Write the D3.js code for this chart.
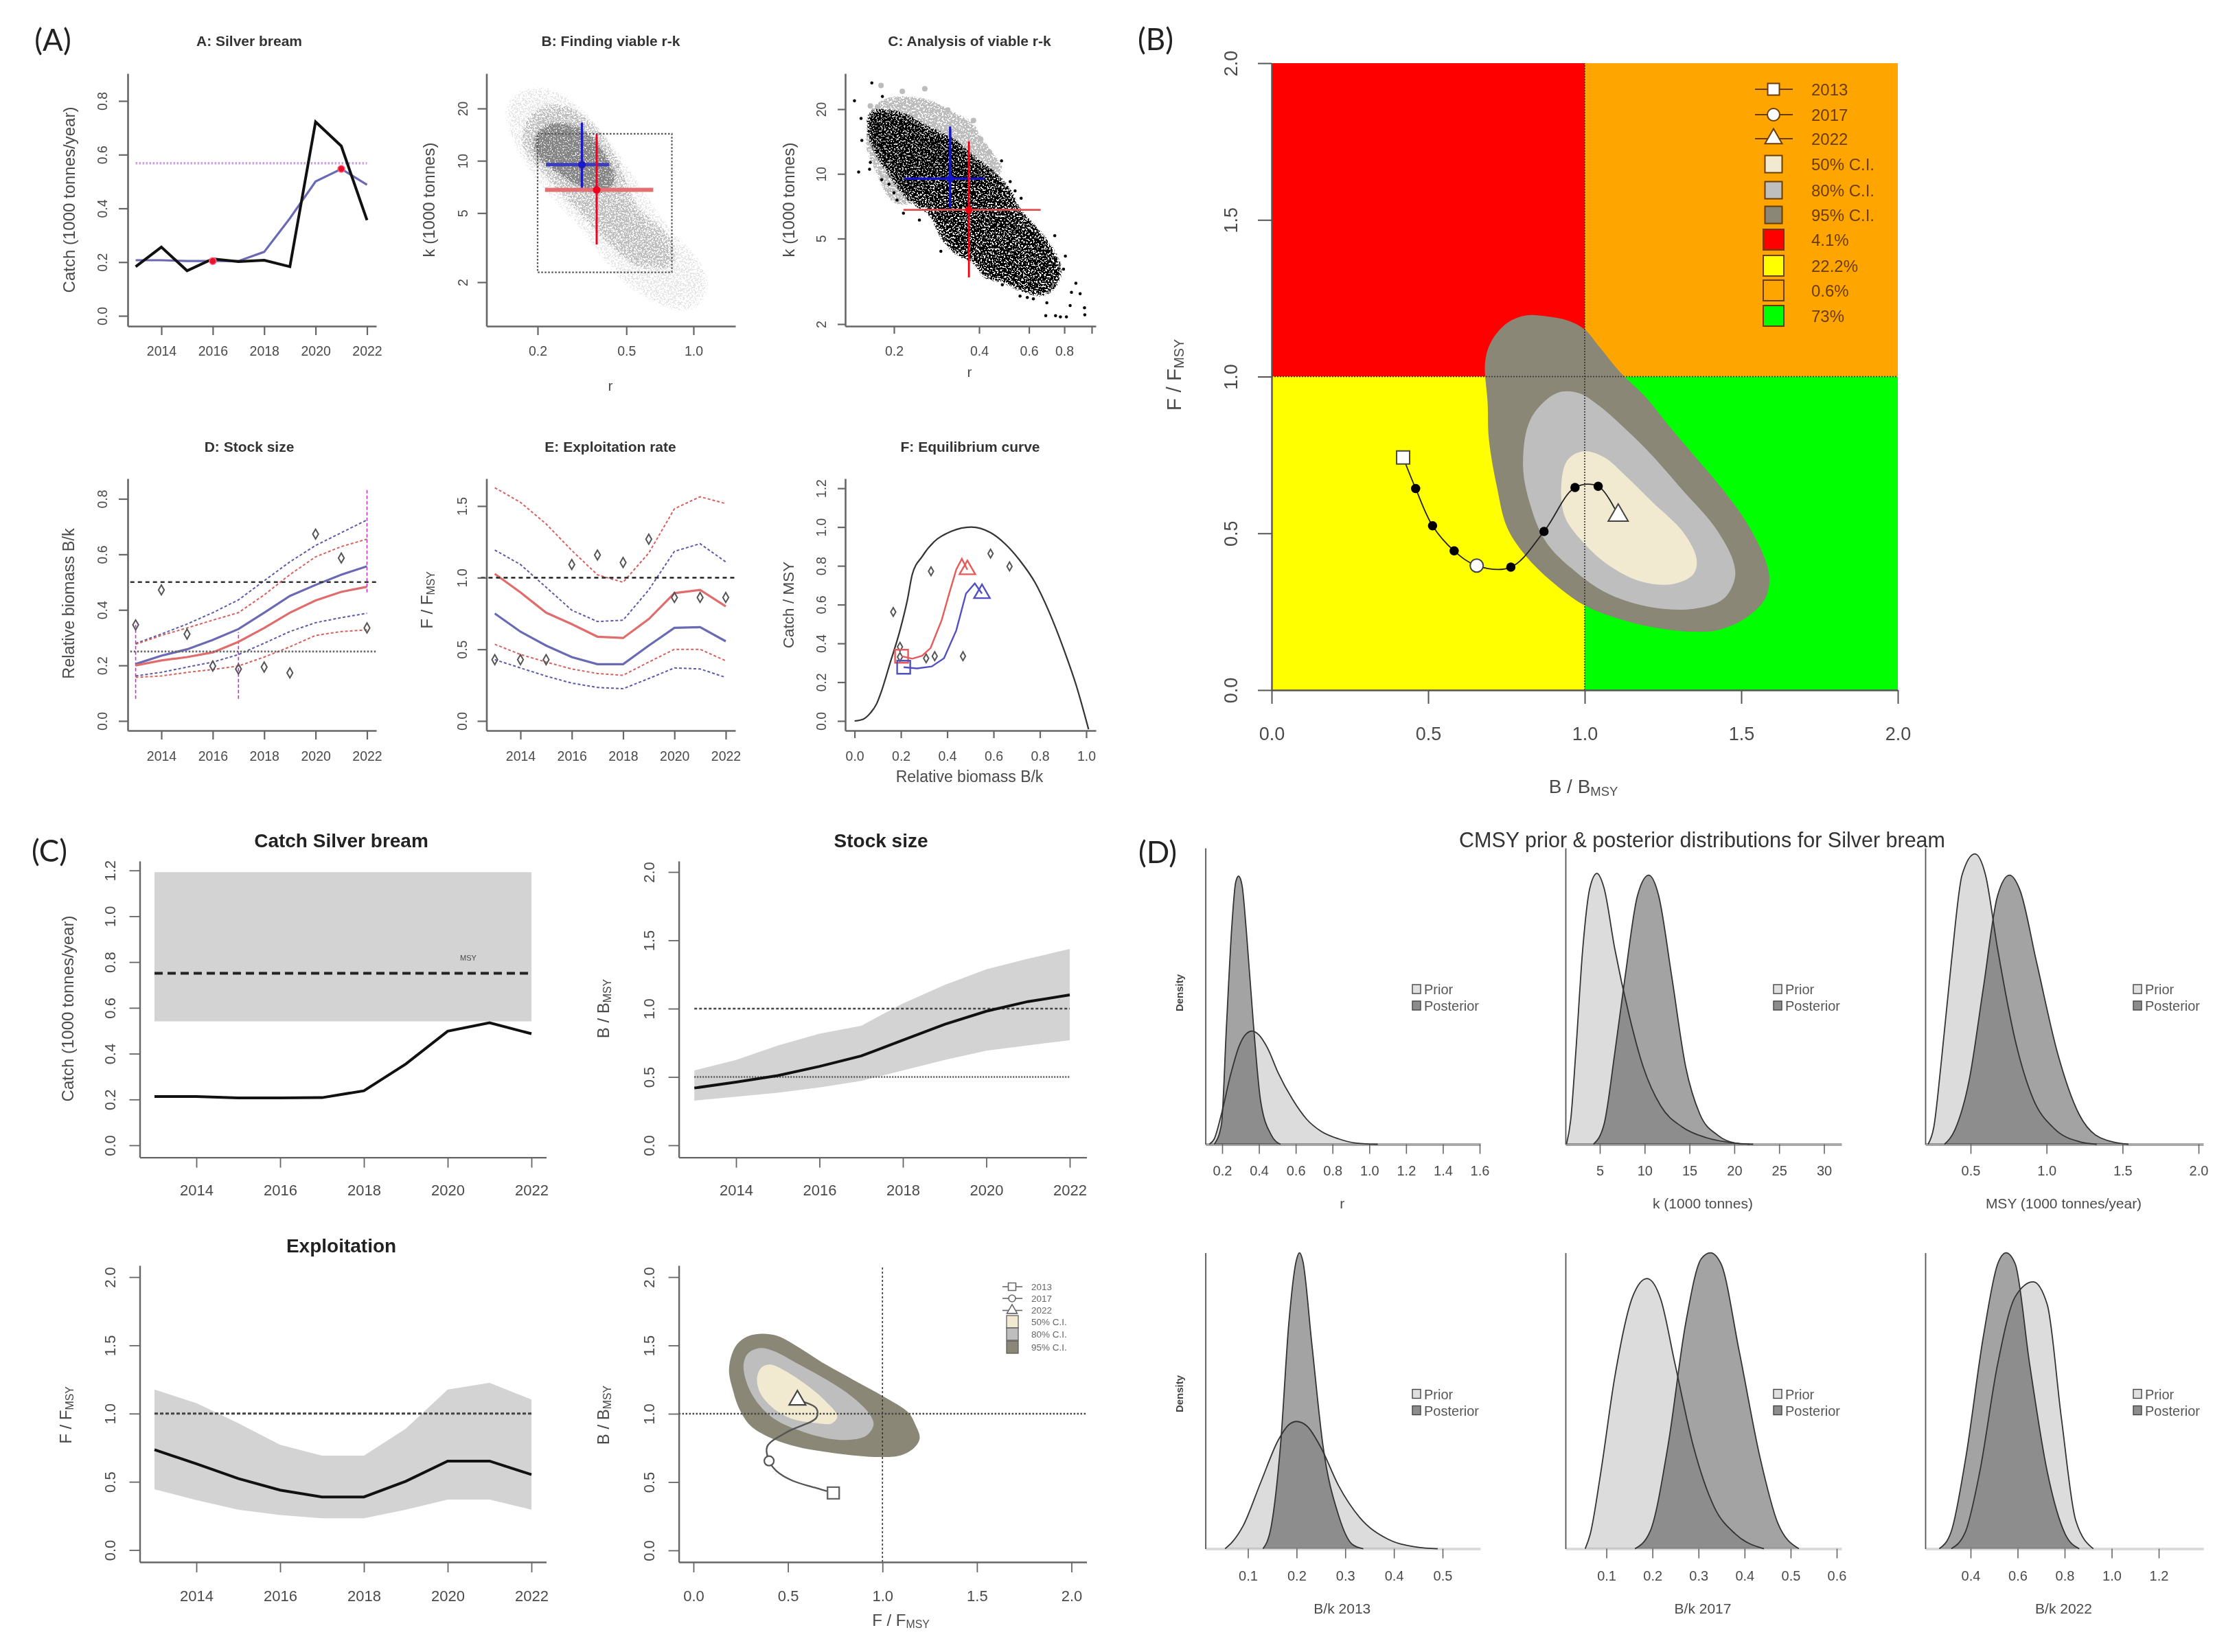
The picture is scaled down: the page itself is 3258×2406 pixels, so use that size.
<!DOCTYPE html>
<html>
<head>
<meta charset="utf-8">
<script src="https://cdnjs.cloudflare.com/ajax/libs/d3/7.8.5/d3.min.js"></script>
<style>
  html, body { margin: 0; padding: 0; background: #fff; }
  text { font-family: "Liberation Sans", Arial, sans-serif; }
</style>
</head>
<body>
<script>
// ---------- data ----------
var years = [2013, 2014, 2015, 2016, 2017, 2018, 2019, 2020, 2021, 2022];
var yearTicks = [2014, 2016, 2018, 2020, 2022];

// (A) A: catch
var catchObs = [0.183, 0.256, 0.168, 0.212, 0.202, 0.207, 0.183, 0.722, 0.632, 0.356];
var catchSmooth = [0.207, 0.207, 0.204, 0.204, 0.204, 0.238, 0.363, 0.5, 0.547, 0.488];
var catchMarkYears = [2016, 2021];
var catchMarkValues = [0.204, 0.547];
var catchRefLine = 0.568;

// (A) B and C: r-k
var blueR = [0.218, 0.316, 0.418];
var blueK = [6.97, 9.5, 16.6];
var redR = [0.216, 0.368, 0.66];
var redK = [3.3, 6.8, 14.2];
var priorBoxR = [0.2, 0.8];
var priorBoxK = [2.28, 14.3];

var faintR = [0.137, 0.176, 0.262, 0.41, 0.745, 1.226, 1.0, 0.5, 0.304, 0.167];
var faintK = [20.8, 27.6, 25.7, 14.7, 4.8, 2.08, 1.28, 1.81, 3.9, 9.7];
var haloR = [0.176, 0.194, 0.255, 0.353, 0.453, 0.553, 0.783, 0.82, 0.553, 0.39, 0.289, 0.214, 0.171];
var haloK = [16.3, 19.5, 21.2, 16.3, 10.4, 5.5, 3.64, 2.48, 2.48, 3.64, 5.5, 8.4, 11.9];
var coreR = [0.196, 0.209, 0.249, 0.304, 0.362, 0.41, 0.442, 0.39, 0.304, 0.237, 0.2];
var coreK = [12.8, 15.2, 16.3, 15.2, 12.8, 10.0, 7.84, 6.7, 7.3, 9.0, 10.7];

var greyBandR = [0.162, 0.168, 0.19, 0.261, 0.319, 0.374, 0.405, 0.439, 0.476, 0.439, 0.261, 0.223, 0.199, 0.175, 0.162];
var greyBandK = [14.9, 19.7, 22.1, 21.8, 19.2, 17.1, 14.5, 12.5, 10.6, 9.47, 8.95, 7.34, 7.56, 10.3, 13.3];
var greyDotR = [0.18, 0.214, 0.257, 0.165, 0.382, 0.31, 0.405, 0.435];
var greyDotK = [25.8, 24.2, 24.9, 20.7, 17.7, 19.8, 14.5, 12.6];
var blackR = [0.168, 0.182, 0.214, 0.261, 0.319, 0.367, 0.422, 0.466, 0.515, 0.546, 0.616, 0.694, 0.76, 0.752, 0.681, 0.58, 0.485, 0.422, 0.39, 0.339, 0.3, 0.272, 0.232, 0.214, 0.19, 0.172, 0.165];
var blackK = [19.2, 19.4, 18.6, 16.2, 14.3, 12.2, 10.6, 9.47, 8.0, 6.75, 5.7, 4.68, 3.73, 3.24, 2.81, 2.9, 3.24, 3.38, 3.95, 4.3, 5.09, 6.56, 7.55, 8.46, 10.6, 13.3, 15.7];
var blackDotR = [0.145, 0.167, 0.182, 0.153, 0.154, 0.15, 0.164, 0.165, 0.181, 0.192, 0.2, 0.205, 0.216, 0.246, 0.293, 0.48, 0.515, 0.536, 0.563, 0.74, 0.807, 0.795, 0.879, 0.848, 0.91, 0.839, 0.943, 0.945, 0.814, 0.775, 0.745, 0.688, 0.694, 0.622, 0.592, 0.558, 0.483];
var blackDotK = [21.9, 26.5, 22.9, 18.1, 14.3, 10.2, 10.5, 11.3, 9.4, 8.95, 8.16, 7.55, 6.56, 6.1, 4.36, 11.5, 9.2, 8.34, 7.7, 5.16, 4.14, 3.6, 3.1, 2.81, 2.77, 2.44, 2.38, 2.21, 2.16, 2.16, 2.19, 2.19, 2.51, 2.62, 2.66, 2.7, 3.05];

// (A) D: stock size
var bkBlue = [0.205, 0.235, 0.258, 0.292, 0.331, 0.39, 0.45, 0.49, 0.527, 0.557];
var bkBlueUp = [0.279, 0.313, 0.349, 0.39, 0.436, 0.505, 0.573, 0.632, 0.678, 0.724];
var bkBlueLo = [0.162, 0.175, 0.194, 0.212, 0.239, 0.28, 0.322, 0.354, 0.372, 0.388];
var bkRed = [0.2, 0.218, 0.23, 0.247, 0.285, 0.335, 0.39, 0.434, 0.465, 0.483];
var bkRedUp = [0.276, 0.308, 0.335, 0.363, 0.39, 0.454, 0.527, 0.591, 0.628, 0.655];
var bkRedLo = [0.157, 0.162, 0.175, 0.185, 0.198, 0.23, 0.267, 0.308, 0.322, 0.328];
var bkObs = [0.346, 0.472, 0.313, 0.198, 0.187, 0.194, 0.173, 0.673, 0.587, 0.335];
var bkPriorYears = [2013, 2017, 2022];
var bkPriorLo = [0.08, 0.08, 0.463];
var bkPriorHi = [0.346, 0.32, 0.838];

// (A) E: exploitation rate
var frBlue = [0.75, 0.623, 0.526, 0.446, 0.396, 0.396, 0.526, 0.65, 0.655, 0.556];
var frBlueUp = [1.193, 1.092, 0.933, 0.773, 0.694, 0.703, 0.915, 1.184, 1.237, 1.11];
var frBlueLo = [0.428, 0.37, 0.313, 0.264, 0.234, 0.225, 0.296, 0.37, 0.363, 0.304];
var frRed = [1.027, 0.897, 0.756, 0.676, 0.588, 0.579, 0.711, 0.892, 0.915, 0.8];
var frRedUp = [1.628, 1.526, 1.375, 1.19, 1.02, 0.968, 1.172, 1.481, 1.565, 1.517];
var frRedLo = [0.535, 0.464, 0.411, 0.363, 0.331, 0.319, 0.411, 0.5, 0.5, 0.42];
var frObs = [0.428, 0.428, 0.428, 1.092, 1.158, 1.106, 1.269, 0.862, 0.862, 0.862];

// (A) F: equilibrium curve
var eqB = [0, 0.037, 0.069, 0.095, 0.116, 0.153, 0.196, 0.228, 0.249, 0.291, 0.344, 0.418, 0.503, 0.587, 0.651, 0.714, 0.778, 0.841, 0.905, 0.958, 1.01];
var eqC = [0, 0.009, 0.042, 0.088, 0.153, 0.297, 0.467, 0.624, 0.755, 0.847, 0.925, 0.978, 1.0, 0.971, 0.912, 0.827, 0.716, 0.559, 0.363, 0.179, -0.043];
var eqRedB = [0.203, 0.249, 0.291, 0.328, 0.376, 0.407, 0.439, 0.463, 0.487];
var eqRedC = [0.334, 0.321, 0.336, 0.376, 0.52, 0.651, 0.781, 0.836, 0.78];
var eqBlueB = [0.212, 0.27, 0.333, 0.386, 0.439, 0.481, 0.519, 0.55];
var eqBlueC = [0.277, 0.271, 0.281, 0.323, 0.467, 0.657, 0.709, 0.657];
var eqObsB = [0.167, 0.196, 0.196, 0.309, 0.346, 0.468, 0.33, 0.587, 0.669];
var eqObsC = [0.562, 0.382, 0.33, 0.323, 0.334, 0.334, 0.772, 0.863, 0.797];

// (B) Kobe plot
var kobeB = [0.42, 0.46, 0.514, 0.583, 0.655, 0.764, 0.87, 0.969, 1.043, 1.107];
var kobeF = [0.742, 0.643, 0.524, 0.444, 0.397, 0.392, 0.506, 0.646, 0.65, 0.557];
var ci95B = [0.811, 0.878, 0.945, 0.999, 1.046, 1.113, 1.197, 1.264, 1.348, 1.432, 1.516, 1.575, 1.59, 1.575, 1.516, 1.432, 1.348, 1.214, 1.097, 0.996, 0.895, 0.811, 0.752, 0.719, 0.694, 0.69, 0.682, 0.702, 0.752];
var ci95F = [1.195, 1.192, 1.179, 1.151, 1.096, 1.014, 0.932, 0.849, 0.75, 0.651, 0.536, 0.42, 0.354, 0.289, 0.231, 0.193, 0.186, 0.201, 0.231, 0.272, 0.346, 0.429, 0.519, 0.651, 0.8, 0.915, 1.047, 1.113, 1.171];
var ci80B = [0.912, 0.979, 1.046, 1.13, 1.214, 1.315, 1.416, 1.474, 1.479, 1.441, 1.348, 1.214, 1.08, 0.979, 0.878, 0.828, 0.803, 0.828];
var ci80F = [0.948, 0.948, 0.907, 0.833, 0.75, 0.635, 0.519, 0.412, 0.354, 0.289, 0.259, 0.264, 0.305, 0.371, 0.47, 0.585, 0.717, 0.866];
var ci50B = [0.996, 1.063, 1.13, 1.214, 1.315, 1.357, 1.348, 1.281, 1.181, 1.08, 0.996, 0.937, 0.925, 0.945];
var ci50F = [0.762, 0.742, 0.684, 0.602, 0.503, 0.42, 0.371, 0.338, 0.346, 0.396, 0.47, 0.552, 0.651, 0.734];
var markerLabels = ['2013', '2017', '2022'];
var ciLabels = ['50% C.I.', '80% C.I.', '95% C.I.'];
var ciColors = ['#f1ead1', '#bebebe', '#8b8776'];
var quadLabels = ['4.1%', '22.2%', '0.6%', '73%'];
var quadColors = ['#ff0000', '#ffff00', '#ffa500', '#00ff00'];

// (C)
var msyCatch = [0.213, 0.213, 0.207, 0.207, 0.208, 0.238, 0.355, 0.498, 0.535, 0.487];
var msyBand = [0.541, 1.192];
var msyValue = 0.751;
var bBmsy = [0.419, 0.462, 0.51, 0.577, 0.654, 0.769, 0.885, 0.981, 1.052, 1.1];
var bBmsyUp = [0.548, 0.625, 0.73, 0.817, 0.875, 1.038, 1.173, 1.288, 1.365, 1.437];
var bBmsyLo = [0.327, 0.356, 0.385, 0.423, 0.471, 0.548, 0.625, 0.692, 0.731, 0.769];
var fFmsy = [0.735, 0.632, 0.524, 0.439, 0.389, 0.389, 0.504, 0.652, 0.652, 0.553];
var fFmsyUp = [1.176, 1.077, 0.929, 0.771, 0.692, 0.692, 0.889, 1.176, 1.225, 1.103];
var fFmsyLo = [0.445, 0.366, 0.296, 0.257, 0.233, 0.233, 0.296, 0.37, 0.37, 0.296];
var smallF = [0.74, 0.64, 0.524, 0.44, 0.4, 0.39, 0.5, 0.65, 0.65, 0.55];
var smallB = [0.42, 0.46, 0.51, 0.58, 0.655, 0.76, 0.87, 0.97, 1.04, 1.1];
var small95F = [0.349, 0.44, 0.547, 0.7, 0.853, 1.006, 1.136, 1.174, 1.197, 1.167, 1.098, 0.991, 0.838, 0.685, 0.547, 0.425, 0.303, 0.242, 0.211, 0.188, 0.219, 0.272];
var small95B = [1.584, 1.571, 1.494, 1.36, 1.243, 1.126, 1.01, 0.92, 0.822, 0.75, 0.696, 0.683, 0.696, 0.723, 0.759, 0.813, 0.911, 1.037, 1.162, 1.324, 1.485, 1.557];
var small80F = [0.349, 0.425, 0.547, 0.7, 0.838, 0.93, 0.953, 0.914, 0.823, 0.7, 0.547, 0.425, 0.333, 0.28, 0.265, 0.287];
var small80B = [1.48, 1.458, 1.369, 1.252, 1.126, 1.001, 0.92, 0.839, 0.809, 0.822, 0.884, 0.965, 1.091, 1.234, 1.36, 1.44];
var small50F = [0.402, 0.471, 0.593, 0.7, 0.761, 0.731, 0.639, 0.517, 0.425, 0.356, 0.336, 0.356];
var small50B = [1.36, 1.324, 1.216, 1.091, 0.983, 0.929, 0.933, 0.965, 1.037, 1.144, 1.252, 1.333];

// (D) prior and posterior densities, height relative to the axis top
var rPriorX = [0.13, 0.157, 0.196, 0.246, 0.293, 0.331, 0.362, 0.401, 0.447, 0.505, 0.583, 0.66, 0.737, 0.834, 0.93, 1.046];
var rPriorD = [0, 0.018, 0.102, 0.235, 0.333, 0.373, 0.382, 0.368, 0.324, 0.24, 0.151, 0.084, 0.044, 0.018, 0.004, 0];
var rPostX = [0.157, 0.196, 0.223, 0.254, 0.273, 0.289, 0.308, 0.331, 0.37, 0.409, 0.467, 0.517];
var rPostD = [0, 0.067, 0.395, 0.75, 0.883, 0.905, 0.874, 0.723, 0.404, 0.146, 0.031, 0];
var kPriorX = [1.28, 1.76, 2.31, 3.1, 3.89, 4.68, 5.47, 6.66, 8.24, 9.83, 11.8, 14.2, 16.9, 20.1, 22.1];
var kPriorD = [0, 0.084, 0.306, 0.661, 0.865, 0.914, 0.865, 0.661, 0.439, 0.262, 0.129, 0.058, 0.022, 0.004, 0];
var kPostX = [4.29, 5.47, 6.66, 7.85, 9.19, 10.46, 11.57, 12.99, 14.57, 16.15, 18.13, 20.11, 21.69];
var kPostD = [0, 0.067, 0.306, 0.572, 0.838, 0.908, 0.838, 0.572, 0.262, 0.102, 0.031, 0.004, 0];
var msyPriorX = [0.22, 0.258, 0.304, 0.374, 0.444, 0.528, 0.598, 0.677, 0.794, 0.91, 1.05, 1.213, 1.33];
var msyPriorD = [0, 0.058, 0.262, 0.617, 0.909, 0.98, 0.909, 0.661, 0.35, 0.155, 0.053, 0.009, 0];
var msyPostX = [0.328, 0.397, 0.491, 0.584, 0.677, 0.756, 0.826, 0.933, 1.073, 1.213, 1.353, 1.539];
var msyPostD = [0, 0.049, 0.217, 0.528, 0.838, 0.908, 0.856, 0.617, 0.306, 0.102, 0.022, 0];
var b13PriorX = [0.053, 0.068, 0.09, 0.126, 0.163, 0.184, 0.2, 0.221, 0.25, 0.286, 0.33, 0.388, 0.446, 0.49];
var b13PriorD = [0, 0.023, 0.077, 0.223, 0.369, 0.419, 0.43, 0.415, 0.342, 0.214, 0.105, 0.032, 0.006, 0];
var b13PostX = [0.131, 0.148, 0.167, 0.184, 0.199, 0.206, 0.213, 0.231, 0.254, 0.286, 0.315, 0.337];
var b13PostD = [0, 0.077, 0.351, 0.761, 0.971, 1, 0.971, 0.697, 0.351, 0.114, 0.014, 0];
var b17PriorX = [0.054, 0.065, 0.088, 0.118, 0.157, 0.188, 0.218, 0.249, 0.288, 0.334, 0.38, 0.442];
var b17PriorD = [0, 0.05, 0.26, 0.579, 0.852, 0.913, 0.843, 0.624, 0.351, 0.141, 0.05, 0];
var b17PostX = [0.162, 0.195, 0.234, 0.272, 0.306, 0.326, 0.349, 0.388, 0.434, 0.472, 0.518];
var b17PostD = [0, 0.059, 0.351, 0.761, 0.98, 1, 0.962, 0.67, 0.305, 0.087, 0];
var b22PriorX = [0.318, 0.379, 0.439, 0.515, 0.59, 0.666, 0.726, 0.786, 0.847, 0.922];
var b22PriorD = [0, 0.059, 0.26, 0.624, 0.852, 0.902, 0.825, 0.442, 0.096, 0];
var b22PostX = [0.267, 0.318, 0.379, 0.454, 0.515, 0.551, 0.59, 0.651, 0.726, 0.802, 0.862];
var b22PostD = [0, 0.059, 0.305, 0.716, 0.962, 1, 0.962, 0.624, 0.26, 0.05, 0];

// ---------- helpers ----------
var svg = d3.select('body').append('svg')
    .attr('width', 3258)
    .attr('height', 2406)
    .style('display', 'block')
    .style('background', '#fff')
    .style('filter', 'blur(0.7px)'); // the source figure is a soft, rescaled bitmap
var defs = svg.append('defs');

var AXIS = '#666';
var TEXT = '#4a4a4a';
var BLUE = '#6a6ab4';
var RED = '#e06c6c';
var DARKBLUE = '#5a5aaa';
var DARKRED = '#d8605c';

// scale from two known ticks, stretched so it covers the whole axis line
function ticked(scale, v0, p0, v1, p1, pa, pb) {
    var s = scale.copy().domain([v0, v1]).range([p0, p1]);
    return s.copy().domain([s.invert(pa), s.invert(pb)]).range([pa, pb]);
}

function zip(a, b) {
    return a.map(function(d, i) { return [d, b[i]]; });
}

function label(txt, x, y, size, opt) {
    opt = opt || {};
    return svg.append('text')
        .attr('transform', 'translate(' + x + ',' + y + ')' + (opt.rot ? ' rotate(-90)' : ''))
        .attr('text-anchor', opt.anchor || 'middle')
        .attr('dominant-baseline', 'central')
        .attr('font-size', size)
        .attr('font-weight', opt.bold ? 700 : 400)
        .attr('fill', opt.fill || TEXT)
        .text(txt);
}

// "F / F" with the small MSY subscript
function msyLabel(letter, x, y, size, rot) {
    var t = label(letter + ' / ' + letter, x, y, size, {rot: rot});
    t.append('tspan').attr('font-size', size * 0.66).attr('dy', size * 0.25).text('MSY');
    return t;
}

function axes(o) {
    var gx = svg.append('g')
        .attr('transform', 'translate(0,' + o.bottom + ')')
        .call(d3.axisBottom(o.x).tickValues(o.xTicks).tickFormat(o.xFmt).tickSize(o.tick).tickSizeOuter(0));
    gx.selectAll('.tick text')
        .attr('y', o.xOff).attr('dy', '.35em')
        .attr('font-size', o.fs).attr('fill', TEXT);
    var gy = svg.append('g')
        .attr('transform', 'translate(' + o.left + ',0)')
        .call(d3.axisLeft(o.y).tickValues(o.yTicks).tickFormat(o.yFmt).tickSize(o.tick).tickSizeOuter(0));
    gy.selectAll('.tick text')
        .attr('x', 0).attr('dy', 0).attr('y', 0)
        .attr('text-anchor', 'middle')
        .attr('dominant-baseline', 'central')
        .attr('transform', 'translate(' + (-o.yOff) + ',0) rotate(-90)')
        .attr('font-size', o.fs).attr('fill', TEXT);
    [gx, gy].forEach(function(g) {
        g.attr('font-family', null);
        g.selectAll('path').attr('stroke', o.color || AXIS).attr('stroke-width', o.width || 2.6);
        g.selectAll('line').attr('stroke', o.color || AXIS).attr('stroke-width', o.tickWidth || 2.2);
    });
}

function line(pts, x, y, stroke, width, dash, curve) {
    var gen = d3.line().x(function(d) { return x(d[0]); }).y(function(d) { return y(d[1]); });
    if (curve) { gen.curve(curve); }
    return svg.append('path')
        .attr('d', gen(pts))
        .attr('fill', 'none')
        .attr('stroke', stroke)
        .attr('stroke-width', width)
        .attr('stroke-dasharray', dash || null);
}

function polygon(pts, x, y, fill, curve) {
    var gen = d3.line().x(function(d) { return x(d[0]); }).y(function(d) { return y(d[1]); })
        .curve(curve || d3.curveCatmullRomClosed.alpha(0.5));
    return svg.append('path').attr('d', gen(pts)).attr('fill', fill);
}

function band(yrs, lo, hi, x, y, fill) {
    var pts = yrs.map(function(d, i) { return {x: d, lo: lo[i], hi: hi[i]}; });
    svg.append('path')
        .attr('d', d3.area()
            .x(function(d) { return x(d.x); })
            .y0(function(d) { return y(d.lo); })
            .y1(function(d) { return y(d.hi); })(pts))
        .attr('fill', fill);
}

function marker(type, w, px, py, fill, stroke, sw, h) {
    var size;
    if (type === d3.symbolSquare) { size = w * w; }
    else if (type === d3.symbolTriangle) { size = w * w * Math.sqrt(3) / 4; }
    else { size = Math.PI * w * w / 4; }
    var sy = h ? h / w : 1;
    return svg.append('path')
        .attr('d', d3.symbol().type(type).size(size)())
        .attr('transform', 'translate(' + px + ',' + py + ') scale(1,' + sy + ')')
        .attr('fill', fill)
        .attr('stroke', stroke)
        .attr('stroke-width', sw);
}

function diamonds(xs, ys, x, y, size) {
    xs.forEach(function(d, i) {
        svg.append('path')
            .attr('d', d3.symbol().type(d3.symbolDiamond).size(size)())
            .attr('transform', 'translate(' + x(d) + ',' + y(ys[i]) + ')')
            .attr('fill', 'none')
            .attr('stroke', '#555')
            .attr('stroke-width', 2);
    });
}

// stippled fill for the dense point clouds
function stipple(id, color, blur, freq, cut) {
    var f = defs.append('filter').attr('id', id)
        .attr('filterUnits', 'userSpaceOnUse')
        .attr('x', 0).attr('y', 0).attr('width', 1700).attr('height', 600)
        .attr('color-interpolation-filters', 'sRGB');
    f.append('feGaussianBlur').attr('in', 'SourceAlpha').attr('stdDeviation', blur).attr('result', 'soft');
    f.append('feTurbulence').attr('type', 'fractalNoise').attr('baseFrequency', freq)
        .attr('numOctaves', 2).attr('seed', 7).attr('result', 'noise');
    f.append('feColorMatrix').attr('in', 'noise').attr('type', 'matrix')
        .attr('values', '0 0 0 0 0  0 0 0 0 0  0 0 0 0 0  5 0 0 0 -1.9').attr('result', 'grain');
    f.append('feComposite').attr('in', 'soft').attr('in2', 'grain').attr('operator', 'arithmetic')
        .attr('k1', 1).attr('k2', 0).attr('k3', 0).attr('k4', 0).attr('result', 'mix');
    var t = f.append('feComponentTransfer').attr('in', 'mix').attr('result', 'cut');
    t.append('feFuncA').attr('type', 'linear').attr('slope', 9).attr('intercept', -9 * cut);
    f.append('feFlood').attr('flood-color', color).attr('result', 'ink');
    f.append('feComposite').attr('in', 'ink').attr('in2', 'cut').attr('operator', 'in');
}
stipple('cloudFaint', '#e6e6e6', 16, 0.4, 0.58);
stipple('cloudHalo', '#bdbdbd', 11, 0.42, 0.4);
stipple('cloudCore', '#858585', 7, 0.5, 0.22);
stipple('cloudBlack', '#000000', 6, 0.42, 0.13);
stipple('cloudGrey', '#bcbcbc', 3, 0.4, 0.12);

var fmt1 = d3.format('.1f');
var fmt0 = d3.format('d');

// panel letters
[['(A)', 77, 57], ['(B)', 1683, 56], ['(C)', 72, 1238], ['(D)', 1686, 1240]].forEach(function(d) {
    svg.append('text').attr('x', d[1]).attr('y', d[2])
        .attr('text-anchor', 'middle').attr('dominant-baseline', 'central')
        .attr('font-size', 44).attr('fill', '#222')
        .style('font-family', 'Lato').text(d[0]);
});

// ---------- (A) ----------
var rowTop1 = 107, rowBot1 = 475, rowTop2 = 697, rowBot2 = 1064;

function cross(rs, ks, x, y, color, hColor, hw, vw) {
    line([[rs[0], ks[1]], [rs[2], ks[1]]], x, y, hColor, hw);
    line([[rs[1], ks[0]], [rs[1], ks[2]]], x, y, color, vw);
    marker(d3.symbolCircle, 11, x(rs[1]), y(ks[1]), color, 'none', 0);
}

// A: Silver bream
(function() {
    var x = ticked(d3.scaleLinear(), 2014, 235, 2022, 534.5, 186, 548);
    var y = ticked(d3.scaleLinear(), 0, 460, 0.8, 147, rowBot1, rowTop1);
    label('A: Silver bream', 363, 59, 21, {bold: true, fill: '#333'});
    label('Catch (1000 tonnes/year)', 100, 291, 24, {rot: true});
    line([[2013, catchRefLine], [2022, catchRefLine]], x, y, '#c9a0e0', 3.4, '2.5,2.5');
    line(zip(years, catchSmooth), x, y, BLUE, 3.2);
    line(zip(years, catchObs), x, y, '#111', 4);
    catchMarkYears.forEach(function(d, i) {
        marker(d3.symbolCircle, 10, x(d), y(catchMarkValues[i]), '#e8102a', '#ff6080', 1.5);
    });
    axes({x: x, y: y, bottom: rowBot1, left: 186, xTicks: yearTicks, yTicks: [0, 0.2, 0.4, 0.6, 0.8],
        xFmt: fmt0, yFmt: fmt1, tick: 13, fs: 19.5, xOff: 36, yOff: 37});
})();

// B: Finding viable r-k
(function() {
    var x = ticked(d3.scaleLog(), 0.2, 783, 1, 1010, 708.5, 1071);
    var y = ticked(d3.scaleLog(), 20, 158, 2, 411, rowBot1, rowTop1);
    label('B: Finding viable r-k', 889.5, 59, 21, {bold: true, fill: '#333'});
    label('k (1000 tonnes)', 624, 291, 24, {rot: true});
    label('r', 889, 561, 21);
    polygon(zip(faintR, faintK), x, y, '#000').attr('filter', 'url(#cloudFaint)');
    polygon(zip(haloR, haloK), x, y, '#000').attr('filter', 'url(#cloudHalo)');
    polygon(zip(coreR, coreK), x, y, '#000').attr('filter', 'url(#cloudCore)');
    svg.append('rect')
        .attr('x', x(priorBoxR[0])).attr('y', y(priorBoxK[1]))
        .attr('width', x(priorBoxR[1]) - x(priorBoxR[0])).attr('height', y(priorBoxK[0]) - y(priorBoxK[1]))
        .attr('fill', 'none').attr('stroke', '#555').attr('stroke-width', 2.2).attr('stroke-dasharray', '2.5,2.5');
    cross(blueR, blueK, x, y, '#1a1ac8', '#3c3cc0', 5, 3.4);
    cross(redR, redK, x, y, '#f00020', '#e27070', 6, 3);
    axes({x: x, y: y, bottom: rowBot1, left: 708.5, xTicks: [0.2, 0.5, 1], yTicks: [2, 5, 10, 20],
        xFmt: fmt1, yFmt: fmt0, tick: 13, fs: 19.5, xOff: 36, yOff: 35});
})();

// C: Analysis of viable r-k
(function() {
    var x = ticked(d3.scaleLog(), 0.2, 1302, 1, 1590, 1231, 1596);
    var y = ticked(d3.scaleLog(), 20, 159, 2, 472, rowBot1, rowTop1);
    label('C: Analysis of viable r-k', 1412, 59, 21, {bold: true, fill: '#333'});
    label('k (1000 tonnes)', 1148, 291, 24, {rot: true});
    label('r', 1412, 541, 21);
    polygon(zip(greyBandR, greyBandK), x, y, '#000').attr('filter', 'url(#cloudGrey)');
    greyDotR.forEach(function(d, i) {
        marker(d3.symbolCircle, 8, x(d), y(greyDotK[i]), '#bcbcbc', 'none', 0);
    });
    polygon(zip(blackR, blackK), x, y, '#000').attr('filter', 'url(#cloudBlack)');
    blackDotR.forEach(function(d, i) {
        marker(d3.symbolCircle, 4.5, x(d), y(blackDotK[i]), '#000', 'none', 0);
    });
    cross(blueR, blueK, x, y, '#1414c8', '#1414c0', 3.4, 3.4);
    cross(redR, redK, x, y, '#f00010', '#e05050', 2.8, 2.8);
    axes({x: x, y: y, bottom: rowBot1, left: 1231, xTicks: [0.2, 0.4, 0.6, 0.8, 1], yTicks: [2, 5, 10, 20],
        xFmt: function(d) { return d === 1 ? '' : fmt1(d); }, yFmt: fmt0, tick: 11, fs: 19.5, xOff: 36, yOff: 35});
})();

// D: Stock size
(function() {
    var x = ticked(d3.scaleLinear(), 2014, 235, 2022, 534.5, 186, 548);
    var y = ticked(d3.scaleLinear(), 0, 1050, 0.8, 726.5, rowBot2, rowTop2);
    label('D: Stock size', 363, 650, 21, {bold: true, fill: '#333'});
    label('Relative biomass B/k', 100, 879, 23.5, {rot: true});
    bkPriorYears.forEach(function(d, i) {
        line([[d, bkPriorLo[i]], [d, bkPriorHi[i]]], x, y, '#c433c4', 1.6, '5,3');
    });
    line(zip(years, bkBlueUp), x, y, DARKBLUE, 2, '4,3');
    line(zip(years, bkBlueLo), x, y, DARKBLUE, 2, '4,3');
    line(zip(years, bkRedUp), x, y, DARKRED, 2, '4,3');
    line(zip(years, bkRedLo), x, y, DARKRED, 2, '4,3');
    line(zip(years, bkBlue), x, y, BLUE, 3.2);
    line(zip(years, bkRed), x, y, RED, 3.2);
    line([[x.domain()[0] + 0.1, 0.5], [x.domain()[1], 0.5]], x, y, '#333', 2.6, '6,5');
    line([[x.domain()[0] + 0.1, 0.25], [x.domain()[1], 0.25]], x, y, '#666', 2.6, '2.5,2.5');
    diamonds(years, bkObs, x, y, 60);
    axes({x: x, y: y, bottom: rowBot2, left: 186, xTicks: yearTicks, yTicks: [0, 0.2, 0.4, 0.6, 0.8],
        xFmt: fmt0, yFmt: fmt1, tick: 13, fs: 19.5, xOff: 37, yOff: 37});
})();

// E: Exploitation rate
(function() {
    var x = ticked(d3.scaleLinear(), 2014, 758, 2022, 1057, 708.5, 1071);
    var y = ticked(d3.scaleLinear(), 0, 1050, 1.5, 737, rowBot2, rowTop2);
    label('E: Exploitation rate', 889, 650, 21, {bold: true, fill: '#333'});
    msyLabel('F', 621, 874, 24, true);
    line(zip(years, frBlueUp), x, y, DARKBLUE, 2, '4,3');
    line(zip(years, frBlueLo), x, y, DARKBLUE, 2, '4,3');
    line(zip(years, frRedUp), x, y, DARKRED, 2, '4,3');
    line(zip(years, frRedLo), x, y, DARKRED, 2, '4,3');
    line(zip(years, frBlue), x, y, BLUE, 3.2);
    line(zip(years, frRed), x, y, RED, 3.2);
    line([[x.domain()[0] - 8 / 37, 1], [x.domain()[1], 1]], x, y, '#333', 2.6, '6,5');
    diamonds(years, frObs, x, y, 60);
    axes({x: x, y: y, bottom: rowBot2, left: 708.5, xTicks: yearTicks, yTicks: [0, 0.5, 1, 1.5],
        xFmt: fmt0, yFmt: fmt1, tick: 13, fs: 19.5, xOff: 37, yOff: 36});
})();

// F: Equilibrium curve
(function() {
    var x = ticked(d3.scaleLinear(), 0, 1244.6, 1, 1582, 1231, 1596);
    var y = ticked(d3.scaleLinear(), 0, 1050, 1, 767.6, rowBot2, rowTop2);
    label('F: Equilibrium curve', 1413, 650, 21, {bold: true, fill: '#333'});
    label('Catch / MSY', 1148, 881, 22.5, {rot: true});
    label('Relative biomass B/k', 1412, 1131, 23);
    line(zip(eqB, eqC), x, y, '#333', 2.2, null, d3.curveMonotoneX);
    diamonds(eqObsB, eqObsC, x, y, 46);
    line(zip(eqRedB, eqRedC), x, y, '#e85a5a', 2.4);
    line(zip(eqBlueB, eqBlueC), x, y, '#5050c0', 2.4);
    marker(d3.symbolSquare, 19, x(eqRedB[0]), y(eqRedC[0]), 'none', '#e85a5a', 2.4);
    marker(d3.symbolSquare, 19, x(eqBlueB[0]), y(eqBlueC[0]), 'none', '#5050c0', 2.4);
    marker(d3.symbolTriangle, 23, x(eqRedB[eqRedB.length - 1]), y(eqRedC[eqRedC.length - 1]), 'none', '#e85a5a', 2.4);
    marker(d3.symbolTriangle, 23, x(eqBlueB[eqBlueB.length - 1]), y(eqBlueC[eqBlueC.length - 1]), 'none', '#5050c0', 2.4);
    axes({x: x, y: y, bottom: rowBot2, left: 1231, xTicks: [0, 0.2, 0.4, 0.6, 0.8, 1], yTicks: [0, 0.2, 0.4, 0.6, 0.8, 1, 1.2],
        xFmt: fmt1, yFmt: fmt1, tick: 11, fs: 19.5, xOff: 37, yOff: 35});
})();

// ---------- (B) Kobe plot ----------
(function() {
    var x = d3.scaleLinear().domain([0, 2]).range([1852, 2764]);
    var y = d3.scaleLinear().domain([0, 2]).range([1005, 92]);
    var quads = [[0, 1, 1, 2, 0], [0, 1, 0, 1, 1], [1, 2, 1, 2, 2], [1, 2, 0, 1, 3]];
    quads.forEach(function(q) {
        svg.append('rect')
            .attr('x', x(q[0])).attr('y', y(q[3]))
            .attr('width', x(q[1]) - x(q[0])).attr('height', y(q[2]) - y(q[3]))
            .attr('fill', quadColors[q[4]]);
    });
    polygon(zip(ci95B, ci95F), x, y, ciColors[2]);
    polygon(zip(ci80B, ci80F), x, y, ciColors[1]);
    polygon(zip(ci50B, ci50F), x, y, ciColors[0]);
    line([[1, 0], [1, 2]], x, y, '#333', 1.6, '2,2');
    line([[0, 1], [2, 1]], x, y, '#333', 1.6, '2,2');
    line(zip(kobeB, kobeF), x, y, '#222', 1.8, null, d3.curveCatmullRom);
    kobeB.forEach(function(d, i) {
        marker(d3.symbolCircle, 13.5, x(d), y(kobeF[i]), '#000', 'none', 0);
    });
    marker(d3.symbolSquare, 19, x(kobeB[0]), y(kobeF[0]), '#fff', '#444', 2);
    marker(d3.symbolCircle, 19, x(kobeB[4]), y(kobeF[4]), '#fff', '#444', 2);
    marker(d3.symbolTriangle, 29, x(kobeB[9]), y(kobeF[9]), '#fff', '#444', 2);
    axes({x: x, y: y, bottom: 1005, left: 1852, xTicks: [0, 0.5, 1, 1.5, 2], yTicks: [0, 0.5, 1, 1.5, 2],
        xFmt: fmt1, yFmt: fmt1, tick: 20, fs: 27, xOff: 64, yOff: 59, color: '#555', width: 2.4, tickWidth: 2});
    msyLabel('B', 2306, 1145, 28, false);
    msyLabel('F', 1709, 546, 30, true);

    // legend on the orange quadrant
    var ink = '#6b3c00', rows = [130, 167, 202, 239, 277, 313, 349, 387, 423, 460];
    var types = [d3.symbolSquare, d3.symbolCircle, d3.symbolTriangle];
    var widths = [17, 18, 25];
    markerLabels.forEach(function(d, i) {
        svg.append('line').attr('x1', 2556).attr('x2', 2611).attr('y1', rows[i]).attr('y2', rows[i])
            .attr('stroke', ink).attr('stroke-width', 1.8);
        marker(types[i], widths[i], 2583, rows[i], '#fff', ink, 2);
        label(d, 2638, rows[i], 24, {anchor: 'start', fill: ink});
    });
    ciLabels.forEach(function(d, i) {
        svg.append('rect').attr('x', 2570.5).attr('y', rows[i + 3] - 12.5).attr('width', 25).attr('height', 25)
            .attr('fill', ciColors[i]).attr('stroke', ink).attr('stroke-width', 2);
        label(d, 2638, rows[i + 3], 24, {anchor: 'start', fill: ink});
    });
    quadLabels.forEach(function(d, i) {
        svg.append('rect').attr('x', 2568).attr('y', rows[i + 6] - 15).attr('width', 30).attr('height', 30)
            .attr('fill', quadColors[i]).attr('stroke', ink).attr('stroke-width', 2);
        label(d, 2638, rows[i + 6], 24, {anchor: 'start', fill: ink});
    });
})();

// ---------- (C) ----------
var cTop1 = 1254, cBot1 = 1685.6, cTop2 = 1843, cBot2 = 2275;
var GREY = '#d3d3d3';

(function() {
    var x = ticked(d3.scaleLinear(), 2014, 286, 2022, 774, 203.5, 795.5);
    var y = ticked(d3.scaleLinear(), 0, 1668, 1.2, 1267.7, cBot1, cTop1);
    label('Catch Silver bream', 497, 1224, 28, {bold: true, fill: '#222'});
    label('Catch (1000 tonnes/year)', 98, 1469, 24, {rot: true});
    band([2013, 2022], [msyBand[0], msyBand[0]], [msyBand[1], msyBand[1]], x, y, GREY);
    line([[2013, msyValue], [2022, msyValue]], x, y, '#222', 4, '12,7');
    label('MSY', 682, 1395, 11);
    line(zip(years, msyCatch), x, y, '#111', 4);
    axes({x: x, y: y, bottom: cBot1, left: 203.5, xTicks: yearTicks, yTicks: [0, 0.2, 0.4, 0.6, 0.8, 1, 1.2],
        xFmt: fmt0, yFmt: fmt1, tick: 15, fs: 22, xOff: 48, yOff: 43, width: 2.4, tickWidth: 1.8});
})();

(function() {
    var x = ticked(d3.scaleLinear(), 2014, 1072, 2022, 1558, 988.6, 1582.5);
    var y = ticked(d3.scaleLinear(), 0, 1668, 2, 1270, cBot1, cTop1);
    label('Stock size', 1283, 1224, 28, {bold: true, fill: '#222'});
    msyLabel('B', 878, 1469, 24, true);
    band(years, bBmsyLo, bBmsyUp, x, y, GREY);
    line([[2013, 1], [2022, 1]], x, y, '#444', 2.6, '4,3');
    line([[2013, 0.5], [2022, 0.5]], x, y, '#555', 2.4, '2,2');
    line(zip(years, bBmsy), x, y, '#111', 4);
    axes({x: x, y: y, bottom: cBot1, left: 988.6, xTicks: yearTicks, yTicks: [0, 0.5, 1, 1.5, 2],
        xFmt: fmt0, yFmt: fmt1, tick: 15, fs: 22, xOff: 48, yOff: 43, width: 2.4, tickWidth: 1.8});
})();

(function() {
    var x = ticked(d3.scaleLinear(), 2014, 286, 2022, 774, 203.5, 795.5);
    var y = ticked(d3.scaleLinear(), 0, 2257.5, 2, 1860, cBot2, cTop2);
    label('Exploitation', 497, 1814, 28, {bold: true, fill: '#222'});
    msyLabel('F', 95, 2061, 24, true);
    band(years, fFmsyLo, fFmsyUp, x, y, GREY);
    line([[2013, 1], [2022, 1]], x, y, '#444', 3, '5,3');
    line(zip(years, fFmsy), x, y, '#111', 4);
    axes({x: x, y: y, bottom: cBot2, left: 203.5, xTicks: yearTicks, yTicks: [0, 0.5, 1, 1.5, 2],
        xFmt: fmt0, yFmt: fmt1, tick: 15, fs: 22, xOff: 49, yOff: 43, width: 2.4, tickWidth: 1.8});
})();

(function() {
    var x = ticked(d3.scaleLinear(), 0, 1010, 2, 1560.5, 988.6, 1582.5);
    var y = ticked(d3.scaleLinear(), 0, 2258, 2, 1860, cBot2, cTop2);
    msyLabel('B', 878, 2061, 24, true);
    msyLabel('F', 1312, 2359, 24, false);
    polygon(zip(small95F, small95B), x, y, ciColors[2]);
    polygon(zip(small80F, small80B), x, y, ciColors[1]);
    polygon(zip(small50F, small50B), x, y, ciColors[0]);
    line([[1, y.domain()[0]], [1, y.domain()[1]]], x, y, '#333', 1.6, '3,3');
    line([[x.domain()[0], 1], [x.domain()[1], 1]], x, y, '#444', 2.6, '2.5,2.5');
    line(zip(smallF, smallB), x, y, '#555', 2.4, null, d3.curveCatmullRom);
    marker(d3.symbolSquare, 17, x(smallF[0]), y(smallB[0]), '#fff', '#666', 2.4);
    marker(d3.symbolCircle, 14, x(smallF[4]), y(smallB[4]), '#fff', '#555', 2.2);
    marker(d3.symbolTriangle, 24, x(smallF[9]), y(smallB[9]), '#fff', '#444', 2.2);
    axes({x: x, y: y, bottom: cBot2, left: 988.6, xTicks: [0, 0.5, 1, 1.5, 2], yTicks: [0, 0.5, 1, 1.5, 2],
        xFmt: fmt1, yFmt: fmt1, tick: 15, fs: 22, xOff: 49, yOff: 43, width: 2.4, tickWidth: 1.8});

    var rows = [1874, 1891, 1908.5, 1925, 1943, 1962];
    var types = [d3.symbolSquare, d3.symbolCircle, d3.symbolTriangle];
    var widths = [11, 10, 15];
    markerLabels.forEach(function(d, i) {
        svg.append('line').attr('x1', 1460).attr('x2', 1489).attr('y1', rows[i]).attr('y2', rows[i])
            .attr('stroke', '#666').attr('stroke-width', 1.6);
        marker(types[i], widths[i], 1474, rows[i], '#fff', '#666', 1.6);
        label(d, 1502, rows[i], 13.5, {anchor: 'start', fill: '#666'});
    });
    ciLabels.forEach(function(d, i) {
        svg.append('rect').attr('x', 1466).attr('y', rows[i + 3] - 9).attr('width', 17).attr('height', 18)
            .attr('fill', ciColors[i]).attr('stroke', '#555').attr('stroke-width', 1.2);
        label(d, 1502, rows[i + 3], 13.5, {anchor: 'start', fill: '#666'});
    });
})();

// ---------- (D) ----------
label('CMSY prior & posterior distributions for Silver bream', 2479, 1222.5, 30.5, {fill: '#333'});

function densityPanel(o) {
    var y = d3.scaleLinear().domain([0, 1]).range([o.base, o.top]);
    var x = ticked(d3.scaleLinear(), o.v0, o.p0, o.v1, o.p1, o.left, o.right);
    var area = d3.area().curve(d3.curveMonotoneX)
        .x(function(d) { return x(d[0]); }).y0(y(0)).y1(function(d) { return y(d[1]); });
    var outline = d3.line().curve(d3.curveMonotoneX)
        .x(function(d) { return x(d[0]); }).y(function(d) { return y(d[1]); });
    var ax = svg.append('g').attr('transform', 'translate(0,' + o.base + ')')
        .call(d3.axisBottom(x).tickValues(o.ticks).tickFormat(o.fmt).tickSize(14).tickSizeOuter(0));
    ax.attr('font-family', null);
    ax.select('path').attr('stroke', o.axisColor).attr('stroke-width', 4);
    ax.selectAll('line').attr('stroke', '#666').attr('stroke-width', 1.6);
    ax.selectAll('.tick text').attr('y', o.tickY - o.base).attr('dy', '.35em')
        .attr('font-size', 20).attr('fill', TEXT);
    [[o.prior, '#dcdcdc'], [o.post, '#a3a3a3']].forEach(function(s) {
        svg.append('path').attr('d', area(s[0]))
            .attr('fill', s[1]).style('mix-blend-mode', 'multiply');
    });
    [o.prior, o.post].forEach(function(s) {
        svg.append('path').attr('d', outline(s)).attr('fill', 'none')
            .attr('stroke', '#333').attr('stroke-width', 1.8);
    });
    var ay = svg.append('g').attr('transform', 'translate(' + o.left + ',0)')
        .call(d3.axisLeft(y).tickValues([]).tickSizeOuter(0));
    ay.select('path').attr('stroke', '#555').attr('stroke-width', 1.8);
    label(o.name, (o.left + o.right) / 2 - 1, o.nameY, 21);
    ['Prior', 'Posterior'].forEach(function(d, i) {
        var py = o.legY + i * 24;
        svg.append('rect').attr('x', o.legX).attr('y', py - 7).attr('width', 12).attr('height', 13)
            .attr('fill', i ? '#8c8c8c' : '#e0e0e0').attr('stroke', '#444').attr('stroke-width', 1.4);
        label(d, o.legX + 17, py, 20, {anchor: 'start', fill: '#555'});
    });
}

var dTop1 = 1235, dBase1 = 1666.5, dTop2 = 1824.6, dBase2 = 2255.6;
var row1 = {top: dTop1, base: dBase1, tickY: 1705, nameY: 1752.6, legY: 1441, axisColor: '#a8a8a8'};
var row2 = {top: dTop2, base: dBase2, tickY: 2295, nameY: 2342, legY: 2030.5, axisColor: '#dcdcdc'};

function merge(a, b) {
    return Object.assign({}, a, b);
}

densityPanel(merge(row1, {name: 'r', left: 1755.6, right: 2156, v0: 0.2, p0: 1780, v1: 1.6, p1: 2155,
    ticks: [0.2, 0.4, 0.6, 0.8, 1, 1.2, 1.4, 1.6], fmt: fmt1, legX: 2057,
    prior: zip(rPriorX, rPriorD), post: zip(rPostX, rPostD)}));
densityPanel(merge(row1, {name: 'k (1000 tonnes)', left: 2280, right: 2682, v0: 5, p0: 2330, v1: 30, p1: 2656.5,
    ticks: [5, 10, 15, 20, 25, 30], fmt: fmt0, legX: 2583,
    prior: zip(kPriorX, kPriorD), post: zip(kPostX, kPostD)}));
densityPanel(merge(row1, {name: 'MSY (1000 tonnes/year)', left: 2804, right: 3209, v0: 0.5, p0: 2870, v1: 2, p1: 3202,
    ticks: [0.5, 1, 1.5, 2], fmt: fmt1, legX: 3107,
    prior: zip(msyPriorX, msyPriorD), post: zip(msyPostX, msyPostD)}));
densityPanel(merge(row2, {name: 'B/k 2013', left: 1755.6, right: 2156, v0: 0.1, p0: 1817.5, v1: 0.5, p1: 2101,
    ticks: [0.1, 0.2, 0.3, 0.4, 0.5], fmt: fmt1, legX: 2057,
    prior: zip(b13PriorX, b13PriorD), post: zip(b13PostX, b13PostD)}));
densityPanel(merge(row2, {name: 'B/k 2017', left: 2280, right: 2682, v0: 0.1, p0: 2339.6, v1: 0.6, p1: 2675,
    ticks: [0.1, 0.2, 0.3, 0.4, 0.5, 0.6], fmt: fmt1, legX: 2583,
    prior: zip(b17PriorX, b17PriorD), post: zip(b17PostX, b17PostD)}));
densityPanel(merge(row2, {name: 'B/k 2022', left: 2804, right: 3209, v0: 0.4, p0: 2870, v1: 1.2, p1: 3144,
    ticks: [0.4, 0.6, 0.8, 1, 1.2], fmt: fmt1, legX: 3107,
    prior: zip(b22PriorX, b22PriorD), post: zip(b22PostX, b22PostD)}));

label('Density', 1717, 1446, 15, {rot: true, bold: true, fill: '#444'});
label('Density', 1717, 2030, 15, {rot: true, bold: true, fill: '#444'});
</script>
</body>
</html>
